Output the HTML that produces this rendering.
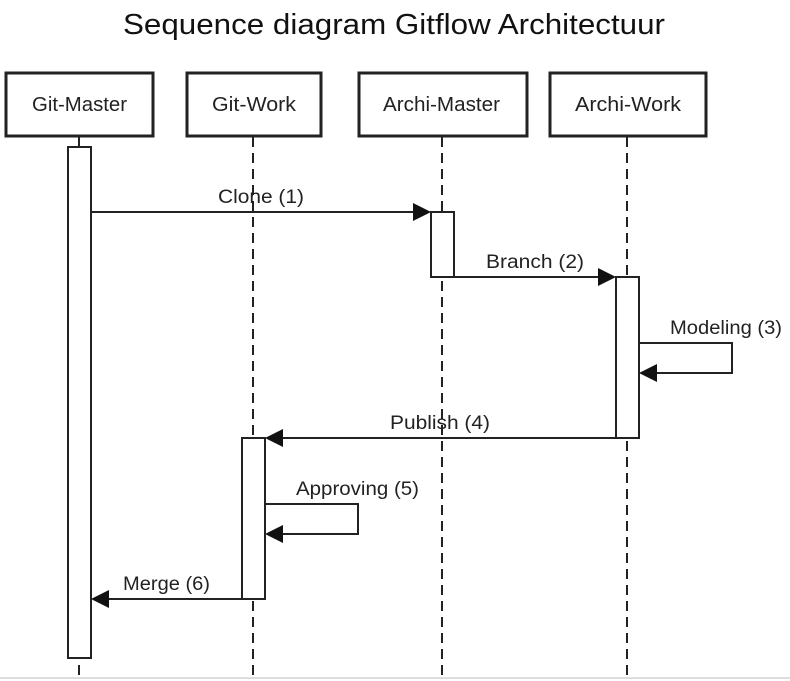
<!DOCTYPE html>
<html><head><style>html,body{margin:0;padding:0;background:#fff}svg{display:block}</style></head>
<body>
<svg width="790" height="681" viewBox="0 0 790 681" xmlns="http://www.w3.org/2000/svg" font-family="Liberation Sans, sans-serif">
<rect width="790" height="681" fill="#fff"/>
<text x="394" y="34" font-size="29" text-anchor="middle" textLength="542" lengthAdjust="spacingAndGlyphs" fill="#111">Sequence diagram Gitflow Architectuur</text>
<g fill="#fff" stroke="#222" stroke-width="3">
<rect x="6" y="73" width="147" height="63"/>
<rect x="187" y="73" width="134" height="63"/>
<rect x="359" y="73" width="168" height="63"/>
<rect x="550" y="73" width="156" height="63"/>
</g>
<g font-size="20" fill="#222" lengthAdjust="spacingAndGlyphs">
<text x="32" y="111" textLength="95" lengthAdjust="spacingAndGlyphs">Git-Master</text>
<text x="212" y="111" textLength="84" lengthAdjust="spacingAndGlyphs">Git-Work</text>
<text x="383" y="111" textLength="117" lengthAdjust="spacingAndGlyphs">Archi-Master</text>
<text x="575" y="111" textLength="106" lengthAdjust="spacingAndGlyphs">Archi-Work</text>
</g>
<g stroke="#222" stroke-width="2" stroke-dasharray="10,6" fill="none">
<line x1="79" y1="137" x2="79" y2="681"/>
<line x1="253" y1="137" x2="253" y2="681"/>
<line x1="442" y1="137" x2="442" y2="681"/>
<line x1="627" y1="137" x2="627" y2="681"/>
</g>
<line x1="79" y1="137" x2="79" y2="147" stroke="#222" stroke-width="2"/>
<line x1="0" y1="678" x2="790" y2="678" stroke="#ddd" stroke-width="2"/>
<g fill="#fff" stroke="#222" stroke-width="2">
<rect x="68" y="147" width="23" height="511"/>
<rect x="431" y="212" width="23" height="65"/>
<rect x="616" y="277" width="23" height="161"/>
<rect x="242" y="438" width="23" height="161"/>
</g>
<g stroke="#222" stroke-width="2" fill="none">
<line x1="91" y1="212" x2="415" y2="212"/>
<line x1="454" y1="277" x2="600" y2="277"/>
<polyline points="639,343 732,343 732,373 655,373"/>
<line x1="616" y1="438" x2="281" y2="438"/>
<polyline points="265,504 358,504 358,534 281,534"/>
<line x1="242" y1="599" x2="107" y2="599"/>
</g>
<g fill="#111">
<polygon points="431,212 413,203 413,221"/>
<polygon points="616,277 598,268 598,286"/>
<polygon points="639,373 657,364 657,382"/>
<polygon points="265,438 283,429 283,447"/>
<polygon points="265,534 283,525 283,543"/>
<polygon points="91,599 109,590 109,608"/>
</g>
<g font-size="19" fill="#222">
<text x="218" y="203" textLength="86" lengthAdjust="spacingAndGlyphs">Clone (1)</text>
<text x="486" y="268" textLength="98" lengthAdjust="spacingAndGlyphs">Branch (2)</text>
<text x="670" y="334" textLength="112" lengthAdjust="spacingAndGlyphs">Modeling (3)</text>
<text x="390" y="429" textLength="100" lengthAdjust="spacingAndGlyphs">Publish (4)</text>
<text x="296" y="495" textLength="123" lengthAdjust="spacingAndGlyphs">Approving (5)</text>
<text x="123" y="590" textLength="87" lengthAdjust="spacingAndGlyphs">Merge (6)</text>
</g>
</svg>
</body></html>
